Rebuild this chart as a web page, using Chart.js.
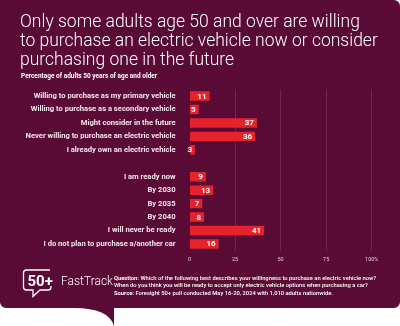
<!DOCTYPE html>
<html>
<head>
<meta charset="utf-8">
<script src="https://cdn.jsdelivr.net/npm/chart.js@4"></script>
<style>
  html, body { margin: 0; padding: 0; background: #fff; }
  #wrap { width: 400px; height: 326px; }
</style>
</head>
<body>
<div id="wrap"><canvas id="evChart" width="400" height="326"></canvas></div>
<script>
/* global Chart */
const willingnessLabels = [
    'Willing to purchase as my primary vehicle',
    'Willing to purchase as a secondary vehicle',
    'Might consider in the future',
    'Never willing to purchase an electric vehicle',
    'I already own an electric vehicle'
];
const willingnessValues = [11, 5, 37, 36, 3];

const readinessLabels = [
    'I am ready now',
    'By 2030',
    'By 2035',
    'By 2040',
    'I will never be ready',
    'I do not plan to purchase a/another car'
];
const readinessValues = [9, 13, 7, 8, 41, 16];

const tickValues = [0, 25, 50, 75, 100];
const tickLabels = ['0', '25', '50', '75', '100%'];

// one empty row between the two questions
const categories = [...willingnessLabels, '', ...readinessLabels];
const values = [...willingnessValues, null, ...readinessValues];

const MAROON = '#5a0b35';
const RED = '#e6222c';
const TEXT = '#f5e6ec';

const bubblePlugin = {
    id: 'bubble',
    beforeDraw(chart) {
        const ctx = chart.ctx;
        const W = 400, B = 308, r = 6;
        ctx.save();
        ctx.fillStyle = MAROON;
        ctx.beginPath();
        ctx.moveTo(0, 0);
        ctx.lineTo(W - r, 0);
        ctx.arcTo(W, 0, W, r, r);
        ctx.lineTo(W, B - r);
        ctx.arcTo(W, B, W - r, B, r);
        ctx.lineTo(114, B);
        ctx.lineTo(114, 326);
        ctx.quadraticCurveTo(109, B, 74, B);
        ctx.lineTo(r, B);
        ctx.arcTo(0, B, 0, B - r, r);
        ctx.closePath();
        ctx.fill();

        // title
        ctx.fillStyle = '#ffffff';
        ctx.textBaseline = 'alphabetic';
        ctx.textAlign = 'left';
        ctx.font = '300 17.5px Roboto';
        ctx.fillText('Only some adults age 50 and over are willing', 20, 27);
        ctx.fillText('to purchase an electric vehicle now or consider', 20, 46);
        ctx.fillText('purchasing one in the future', 20, 65);
        ctx.font = 'bold 6.5px Roboto';
        ctx.fillText('Percentage of adults 50 years of age and older', 21, 78);

        // logo
        ctx.strokeStyle = '#ffffff';
        ctx.lineWidth = 1.3;
        ctx.beginPath();
        ctx.moveTo(50, 270);
        ctx.lineTo(26.5, 270);
        ctx.arcTo(23.5, 270, 23.5, 273, 3);
        ctx.lineTo(23.5, 287);
        ctx.arcTo(23.5, 290, 26.5, 290, 3);
        ctx.lineTo(33, 290);
        ctx.lineTo(33, 296.5);
        ctx.lineTo(40, 290);
        ctx.lineTo(48, 290);
        ctx.arcTo(51, 290, 51, 287, 3);
        ctx.lineTo(51, 286);
        ctx.stroke();
        ctx.font = 'bold 15px Roboto';
        ctx.fillText('50+', 27.5, 285.5);
        ctx.font = '300 12px Roboto';
        ctx.fillText('FastTrack', 61, 285);

        // notes
        const lines = [
            ['Question: ', 'Which of the following best describes your willingness to purchase an electric vehicle now?', 280],
            ['', 'When do you think you will be ready to accept only electric vehicle options when purchasing a car?', 286.5],
            ['Source: ', 'Foresight 50+ poll conducted May 16-20, 2024 with 1,010 adults nationwide.', 295]
        ];
        lines.forEach(([head, body, y]) => {
            let x = 114;
            if (head) {
                ctx.font = 'bold 5.8px Roboto';
                ctx.fillText(head, x, y);
                x += ctx.measureText(head).width;
            }
            ctx.font = '500 5.8px Roboto';
            ctx.fillText(body, x, y);
        });
        ctx.restore();
    },
    afterDatasetsDraw(chart) {
        const ctx = chart.ctx;
        const meta = chart.getDatasetMeta(0);
        ctx.save();
        ctx.fillStyle = '#ffffff';
        ctx.font = 'bold 8px Roboto';
        ctx.textAlign = 'right';
        ctx.textBaseline = 'middle';
        meta.data.forEach((bar, i) => {
            if (values[i] == null) return;
            ctx.fillText(String(values[i]), bar.x - 3, bar.y + 0.5);
        });
        ctx.restore();
    }
};

new Chart(document.getElementById('evChart'), {
    type: 'bar',
    data: {
        labels: categories,
        datasets: [{
            data: values,
            backgroundColor: RED,
            barPercentage: 0.7,
            categoryPercentage: 1
        }]
    },
    options: {
        indexAxis: 'y',
        responsive: false,
        animation: false,
        layout: { padding: { top: 89.3, right: 28.3, bottom: 63.3, left: 0 } },
        plugins: { legend: { display: false }, tooltip: { enabled: false } },
        scales: {
            x: {
                min: 0,
                max: 100,
                afterBuildTicks(scale) {
                    scale.ticks = tickValues.map(v => ({ value: v }));
                },
                afterFit(scale) { scale.height = 12; },
                border: { display: false },
                grid: {
                    drawTicks: false,
                    color: ctx => ctx.tick && ctx.tick.value === 0 ? 'rgba(0,0,0,0)' : 'rgba(255,255,255,0.12)'
                },
                ticks: {
                    padding: 6,
                    color: 'rgba(245,230,236,0.85)',
                    font: { family: 'Roboto', size: 5.5 },
                    callback: (v, i) => tickLabels[i]
                }
            },
            y: {
                afterFit(scale) { scale.width = 189.5; },
                border: { display: false },
                grid: { display: false },
                ticks: {
                    padding: 6,
                    autoSkip: false,
                    color: TEXT,
                    font: { family: 'Roboto', size: 7.6, weight: 'bold' }
                }
            }
        }
    },
    plugins: [bubblePlugin]
});
</script>
</body>
</html>
